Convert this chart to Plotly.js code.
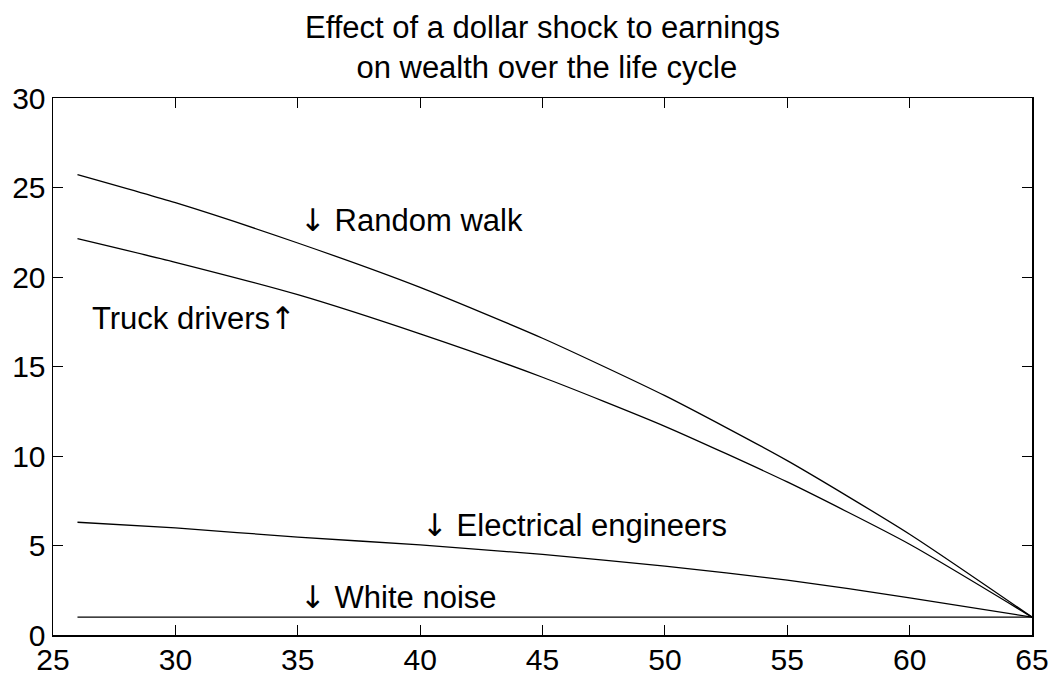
<!DOCTYPE html>
<html>
<head>
<meta charset="utf-8">
<script src="https://cdn.plot.ly/plotly-3.0.1.min.js"></script>
<style>html,body{margin:0;padding:0;background:#fff;}#chart{width:1053px;height:677px;}</style>
</head>
<body>
<div id="chart"></div>
<script>
// Data
const ages = [26, 30, 35, 40, 45, 50, 55, 60, 65];
const randomWalk = [25.72, 24.15, 21.9, 19.42, 16.58, 13.37, 9.74, 5.63, 1.0];
const truckDrivers = [22.14, 20.82, 19.01, 16.82, 14.40, 11.66, 8.55, 5.07, 1.0];
const electricalEngineers = [6.30, 5.98, 5.47, 5.03, 4.50, 3.85, 3.07, 2.08, 1.0];
const whiteNoise = [1, 1, 1, 1, 1, 1, 1, 1, 1];

const xTicks = [25, 30, 35, 40, 45, 50, 55, 60, 65];
const yTicks = [0, 5, 10, 15, 20, 25, 30];

const DOWN = '<span style="font-family:DejaVu Sans">↓</span>';
const UP = '<span style="font-family:DejaVu Sans">↑</span>';
const labels = [
  {text: DOWN + " Random walk", x: 35, y: 23.2, anchor: "left"},
  {text: "Truck drivers" + UP, x: 35, y: 17.7, anchor: "right"},
  {text: DOWN + " Electrical engineers", x: 40, y: 6.15, anchor: "left"},
  {text: DOWN + " White noise", x: 35, y: 2.1, anchor: "left"}
];

const FONT = "Liberation Sans, Arial, Helvetica, sans-serif";
const lineStyle = {color: "#000", width: 1.3, shape: "spline", smoothing: 0.6};

const series = [randomWalk, truckDrivers, electricalEngineers, whiteNoise];
const traces = series.map(s => ({
  x: ages, y: s, type: "scatter", mode: "lines", line: lineStyle, hoverinfo: "skip"
}));

const axisCommon = {
  showgrid: false, zeroline: false, showline: true, mirror: "ticks",
  linecolor: "#000", linewidth: 1.5, ticks: "inside", ticklen: 10,
  tickwidth: 1, tickcolor: "#000",
  tickfont: {family: FONT, size: 30, color: "#000"}
};

const layout = {
  width: 1053, height: 677,
  paper_bgcolor: "#fff", plot_bgcolor: "#fff",
  margin: {l: 53, r: 21, t: 98, b: 42},
  showlegend: false,
  font: {family: FONT, color: "#000"},
  title: {
    text: "Effect of a dollar shock to earnings<br> on wealth over the life cycle",
    font: {family: FONT, size: 31, color: "#000"},
    x: 0.5, xref: "paper", xanchor: "center",
    y: 1 - 38 / 677, yref: "container", yanchor: "middle"
  },
  xaxis: Object.assign({}, axisCommon, {
    range: [25, 65], tickvals: xTicks, ticktext: xTicks.map(String), ticklabelstandoff: -3
  }),
  yaxis: Object.assign({}, axisCommon, {
    range: [0, 30], tickvals: yTicks, ticktext: yTicks.map(String), ticklabelstandoff: 0
  }),
  annotations: labels.map(l => ({
    text: l.text, x: l.x, y: l.y, xref: "x", yref: "y",
    xanchor: l.anchor, yanchor: "middle", showarrow: false,
    font: {family: FONT, size: 31, color: "#000"}
  }))
};

Plotly.newPlot("chart", traces, layout, {displayModeBar: false, staticPlot: true});
</script>
</body>
</html>
